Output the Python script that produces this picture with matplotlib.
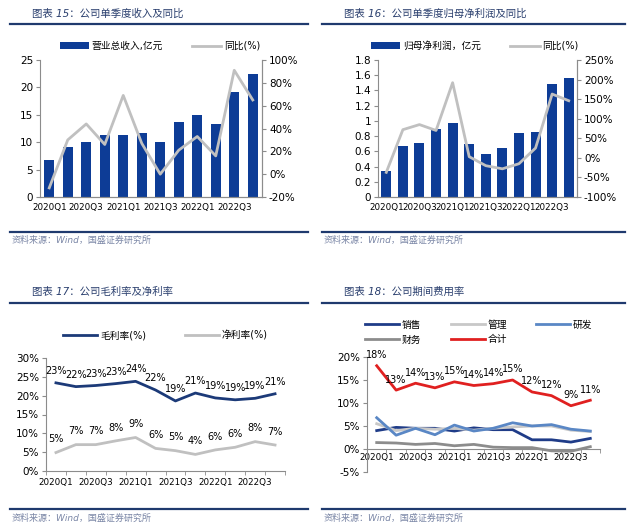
import numpy as np
import matplotlib
matplotlib.use("Agg")
import matplotlib.pyplot as plt
from matplotlib.lines import Line2D
from matplotlib.ticker import FuncFormatter

plt.rcParams['font.family'] = ['DejaVu Sans', 'Noto Sans CJK SC']
plt.rcParams['axes.unicode_minus'] = False

quarters = ['2020Q1', '2020Q2', '2020Q3', '2020Q4', '2021Q1', '2021Q2',
            '2021Q3', '2021Q4', '2022Q1', '2022Q2', '2022Q3', '2022Q4']

# 图表15
revenue = [6.8, 9.1, 10.1, 11.3, 11.3, 11.6, 10.1, 13.6, 15.0, 13.4, 19.2, 22.4]
revenue_yoy = [-12, 30, 44, 26, 69, 27, 0, 21, 33, 16, 91, 65]
# 图表16
profit = [0.34, 0.67, 0.71, 0.89, 0.97, 0.69, 0.57, 0.65, 0.84, 0.85, 1.48, 1.57]
profit_yoy = [-37, 72, 85, 70, 192, 3, -20, -28, -15, 25, 163, 146]
# 图表17
gross_margin = [23.4, 22.4, 22.7, 23.2, 23.8, 21.5, 18.6, 20.7, 19.4, 18.9, 19.3, 20.5]
gross_labels = [23, 22, 23, 23, 24, 22, 19, 21, 19, 19, 19, 21]
net_margin = [4.9, 7.0, 7.0, 8.0, 8.9, 6.0, 5.4, 4.4, 5.6, 6.3, 7.8, 6.9]
net_labels = [5, 7, 7, 8, 9, 6, 5, 4, 6, 6, 8, 7]
# 图表18
sales = [4.0, 4.7, 4.5, 4.5, 3.9, 4.6, 4.2, 4.2, 2.0, 2.0, 1.5, 2.3]
admin = [5.5, 4.0, 4.5, 4.3, 4.5, 4.1, 4.5, 4.8, 5.0, 5.0, 4.1, 3.8]
rnd = [6.8, 3.0, 4.5, 3.1, 5.2, 3.9, 4.5, 5.7, 5.0, 5.3, 4.3, 3.9]
finance = [1.4, 1.3, 1.0, 1.2, 0.7, 1.0, 0.4, 0.3, 0.3, -0.4, -0.5, 0.5]
total = [18.1, 12.8, 14.3, 13.3, 14.6, 13.8, 14.2, 15.0, 12.4, 11.6, 9.4, 10.6]
total_labels = [18, 13, 14, 13, 15, 14, 14, 15, 12, 12, 9, 11]

titles = ['图表 15：公司单季度收入及同比', '图表 16：公司单季度归母净利润及同比',
          '图表 17：公司毛利率及净利率', '图表 18：公司期间费用率']
source = '资料来源：Wind，国盛证券研究所'

BAR = '#0d3c96'
GRAY = '#c0c0c0'
NAVY = '#1c3a78'
TITLE_C = '#2a3f6e'
SPINE = '#8c8c8c'
XT = 6.3
LBL = 7

W, H = 640, 531
fig = plt.figure(figsize=(W / 100, H / 100), dpi=100)


def px_axes(x0, y0, x1, y1):
    return fig.add_axes([x0 / W, 1 - y1 / H, (x1 - x0) / W, (y1 - y0) / H])


def frame(x0, x1, ytitle, yline, ysrc_line, ysrc, title):
    fig.text((x0 + 22) / W, 1 - ytitle / H, title, fontsize=7.5, color=TITLE_C,
             style='italic', va='center', ha='left')
    fig.add_artist(Line2D([x0 / W, x1 / W], [1 - yline / H] * 2, color='#1f3a6e', lw=1.6))
    fig.add_artist(Line2D([x0 / W, x1 / W], [1 - ysrc_line / H] * 2, color='#1f3a6e', lw=1.6))
    fig.text((x0 + 2) / W, 1 - ysrc / H, source, fontsize=6.5, color='#7a86a6',
             style='italic', va='center', ha='left')


def style_axes(ax, right=False):
    ax.spines['top'].set_visible(False)
    if not right:
        ax.spines['right'].set_visible(False)
    for s in ax.spines.values():
        s.set_color(SPINE)
        s.set_linewidth(0.8)
    ax.tick_params(labelsize=7.5, length=3, color=SPINE, width=0.8, pad=2)


pct = FuncFormatter(lambda v, p: f'{v:.0f}%')
x = np.arange(len(quarters))
major = x[::2]

# ---------- 图表15 ----------
frame(10, 308, 14, 24, 232, 240, titles[0])
ax1 = px_axes(40, 60, 262, 197)
ax1.bar(x, revenue, width=0.55, color=BAR, label='营业总收入,亿元')
ax1.set_ylim(0, 25)
ax1.set_yticks(np.arange(0, 26, 5))
ax1.set_xlim(-0.5, 11.5)
ax1.set_xticks(major)
ax1.set_xticklabels(quarters[::2])
style_axes(ax1, right=True)
ax1.tick_params(axis='x', length=0, pad=4, labelsize=XT)
ax1b = ax1.twinx()
ax1b.plot(x, revenue_yoy, color=GRAY, lw=2, label='同比(%)')
ax1b.set_ylim(-20, 100)
ax1b.set_yticks(np.arange(-20, 101, 20))
ax1b.yaxis.set_major_formatter(pct)
style_axes(ax1b, right=True)
ax1b.spines['left'].set_visible(False)
h1, l1 = ax1.get_legend_handles_labels()
h2, l2 = ax1b.get_legend_handles_labels()
fig.legend(h1 + h2, l1 + l2, loc='center', bbox_to_anchor=(160 / W, 1 - 46 / H), ncol=2,
           frameon=False, fontsize=7, handlelength=3.0, columnspacing=3, handletextpad=0.3)

# ---------- 图表16 ----------
frame(322, 625, 14, 24, 232, 240, titles[1])
ax2 = px_axes(378, 60, 577, 197)
ax2.bar(x, profit, width=0.6, color=BAR, label='归母净利润，亿元')
ax2.set_ylim(0, 1.8)
ax2.set_yticks(np.arange(0, 1.81, 0.2))
ax2.yaxis.set_major_formatter(FuncFormatter(lambda v, p: f'{v:.1f}'.rstrip('0').rstrip('.') if v else '0'))
ax2.set_xlim(-0.5, 11.5)
ax2.set_xticks(major)
ax2.set_xticklabels(quarters[::2])
style_axes(ax2, right=True)
ax2.tick_params(axis='x', length=0, pad=4, labelsize=XT)
ax2b = ax2.twinx()
ax2b.plot(x, profit_yoy, color=GRAY, lw=2, label='同比(%)')
ax2b.set_ylim(-100, 250)
ax2b.set_yticks(np.arange(-100, 251, 50))
ax2b.yaxis.set_major_formatter(pct)
style_axes(ax2b, right=True)
ax2b.spines['left'].set_visible(False)
h1, l1 = ax2.get_legend_handles_labels()
h2, l2 = ax2b.get_legend_handles_labels()
fig.legend(h1 + h2, l1 + l2, loc='center', bbox_to_anchor=(475 / W, 1 - 46 / H), ncol=2,
           frameon=False, fontsize=7, handlelength=3.0, columnspacing=3, handletextpad=0.3)

# ---------- 图表17 ----------
frame(10, 308, 292, 303, 509, 518, titles[2])
ax3 = px_axes(46, 358, 285, 471)
ax3.plot(x, gross_margin, color=NAVY, lw=2, label='毛利率(%)')
ax3.plot(x, net_margin, color=GRAY, lw=2, label='净利率(%)')
for xi, v, lab in zip(x, gross_margin, gross_labels):
    ax3.annotate(f'{lab}%', (xi, v), xytext=(0, 5), textcoords='offset points',
                 ha='center', va='bottom', fontsize=LBL)
for xi, v, lab in zip(x, net_margin, net_labels):
    ax3.annotate(f'{lab}%', (xi, v), xytext=(0, 6), textcoords='offset points',
                 ha='center', va='bottom', fontsize=LBL)
ax3.set_ylim(0, 30)
ax3.set_yticks(np.arange(0, 31, 5))
ax3.yaxis.set_major_formatter(pct)
ax3.set_xlim(-0.5, 11.5)
ax3.set_xticks(major)
ax3.set_xticklabels(quarters[::2])
ax3.set_xticks(np.arange(-0.5, 12, 1), minor=True)
style_axes(ax3)
ax3.tick_params(axis='x', which='major', length=0, pad=5, labelsize=XT)
ax3.tick_params(axis='x', which='minor', length=3, color=SPINE)
ax3.legend(loc='center', bbox_to_anchor=(0.5, 1 + 23 / 113), ncol=2, frameon=False,
           fontsize=7, handlelength=3.5, columnspacing=4, handletextpad=0.3)

# ---------- 图表18 ----------
frame(322, 625, 292, 303, 509, 518, titles[3])
ax4 = px_axes(367, 357, 600, 472)
l_sales, = ax4.plot(x, sales, color='#1f3c88', lw=2, label='销售')
l_admin, = ax4.plot(x, admin, color='#c8c8c8', lw=2, label='管理')
l_rnd, = ax4.plot(x, rnd, color='#5a87c5', lw=2, label='研发')
l_fin, = ax4.plot(x, finance, color='#8c8c8c', lw=2, label='财务')
l_tot, = ax4.plot(x, total, color='#e02020', lw=2, label='合计')
for xi, v, lab in zip(x, total, total_labels):
    ax4.annotate(f'{lab}%', (xi, v), xytext=(0, 4), textcoords='offset points',
                 ha='center', va='bottom', fontsize=LBL)
ax4.set_ylim(-5, 20)
ax4.set_yticks(np.arange(-5, 21, 5))
ax4.yaxis.set_major_formatter(pct)
ax4.set_xlim(-0.4, 11.4)
ax4.spines['bottom'].set_position(('data', 0))
ax4.set_xticks(major)
ax4.set_xticklabels(quarters[::2])
ax4.set_xticks(np.arange(-0.5, 12, 1), minor=True)
style_axes(ax4)
ax4.tick_params(axis='x', which='major', length=0, pad=3, labelsize=XT)
ax4.tick_params(axis='x', which='minor', length=3, color=SPINE)
ax4.legend([l_sales, l_fin, l_admin, l_tot, l_rnd], ['销售', '财务', '管理', '合计', '研发'],
           loc='center', bbox_to_anchor=(0.48, 1 + 25 / 115), ncol=3, frameon=False,
           fontsize=7, handlelength=3.5, columnspacing=3, handletextpad=0.3)

fig.savefig('out.png', dpi=100)
